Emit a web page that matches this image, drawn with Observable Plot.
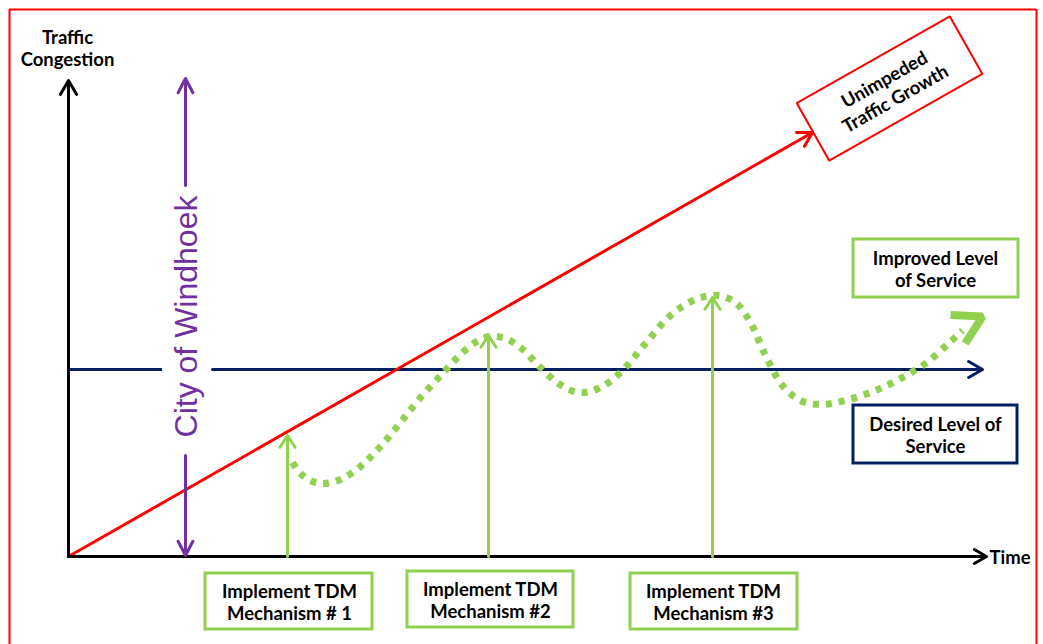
<!DOCTYPE html>
<html><head><meta charset="utf-8">
<script src="https://cdn.jsdelivr.net/npm/d3@7"></script>
<script src="https://cdn.jsdelivr.net/npm/@observablehq/plot@0.6"></script>
<style>body{margin:0;background:#fff} svg{display:block}</style>
</head><body><div id="chart"></div>
<script>
// ---- Data (time units from origin, congestion units from origin) ----
const axisTimeMax = 918;
const axisCongestionMax = 476;
const growthTime = [0, 744];
const growthLevel = [0, 424];
const desiredLevel = 187;
const cityTime = 117;
const mechTime = [219, 420, 644];
const mechPeak = [121, 221, 259];
const mechLabels = ["Implement TDM\nMechanism # 1", "Implement TDM\nMechanism #2", "Implement TDM\nMechanism #3"];
const serviceTime  = [224, 232, 244, 255, 272, 292, 312, 332, 352, 375, 394, 410, 422, 437, 452, 472, 490, 510, 530, 552, 577, 602, 627, 649, 667, 682, 697, 714, 732, 754, 780, 807, 832, 857, 880, 894];
const serviceLevel = [ 94,  83,  75,  73,  77,  90, 110, 134, 159, 184, 204, 216, 220, 218, 209, 189, 173, 164, 168, 184, 213, 241, 257, 261, 254, 234, 201, 171, 156, 152, 157, 166, 178, 193, 213, 226];
const serviceTip = [914, 240];
const serviceTail = [825, 194];

// ---- Colours ----
const RED = "#FF0000", NAVY = "#002060", GREEN = "#92D050", PURPLE = "#7030A0";
const FONT = "Lato, 'Open Sans', sans-serif";
const FS = 18.5;

// ---- Annotation placements ----
const mechBoxes = mechTime.map((t, i) => ({label: mechLabels[i], x: [221, 422, 645][i], x1: [137, 339, 562][i], x2: [304, 505, 729][i], y1: [-17, -15, -17][i], y2: [-73, -71, -73][i], yc: [-45, -43, -45][i]}));
const sideBoxes = [
  {label: "Improved Level\nof Service", x1: 785, x2: 950, y1: 317, y2: 259, x: 867, y: 288, stroke: GREEN},
  {label: "Desired Level of\nService", x1: 785, x2: 949, y1: 151, y2: 93, x: 867, y: 122, stroke: NAVY}
];
const growthBox = {x: 821, y: 468, w: 176, h: 66, angle: 29.5};
const gr = growthBox.angle * Math.PI / 180;
const ux = Math.cos(gr), uy = Math.sin(gr), vx = -Math.sin(gr), vy = Math.cos(gr);
const growthPoly = [[-1,-1],[1,-1],[1,1],[-1,1],[-1,-1]].map(([a,b]) => ({
  x: growthBox.x + a*ux*growthBox.w/2 + b*vx*growthBox.h/2,
  y: growthBox.y + a*uy*growthBox.w/2 + b*vy*growthBox.h/2
}));

const service = serviceTime.map((t, i) => ({x: t, y: serviceLevel[i]}));

const chart = Plot.plot({
  width: 1043, height: 644,
  marginLeft: 0, marginRight: 0, marginTop: 0, marginBottom: 0,
  x: {domain: [0, 975], range: [68, 1043], axis: null},
  y: {domain: [0, 556], range: [556, 0], axis: null},
  style: {background: "white", fontFamily: FONT},
  marks: [
    // red frame
    Plot.ruleX([-59, 968], {y1: -100, y2: 547, stroke: RED, strokeWidth: 2}),
    Plot.ruleY([547], {x1: -59, x2: 968, stroke: RED, strokeWidth: 2}),
    // desired level of service line (broken around city label)
    Plot.ruleY([desiredLevel], {x1: 0, x2: 94, stroke: NAVY, strokeWidth: 3}),
    Plot.arrow([{x1: 144, x2: 914, y: desiredLevel}], {x1: "x1", x2: "x2", y1: "y", y2: "y", stroke: NAVY, strokeWidth: 3, headLength: 8, headAngle: 60}),
    // unimpeded growth
    Plot.arrow([{x1: growthTime[0], y1: growthLevel[0], x2: growthTime[1], y2: growthLevel[1]}], {x1: "x1", y1: "y1", x2: "x2", y2: "y2", stroke: RED, strokeWidth: 3, headLength: 8, headAngle: 60}),
    Plot.line(growthPoly, {x: "x", y: "y", stroke: RED, strokeWidth: 2, strokeLinejoin: "miter"}),
    Plot.text([growthBox], {x: "x", y: "y", text: () => "Unimpeded\nTraffic Growth", rotate: -growthBox.angle, fontSize: FS, fontWeight: "bold", fill: "black", lineHeight: 1.2}),
    // axes
    Plot.arrow([{x1: 0, y1: 0, x2: 0, y2: axisCongestionMax}], {x1: "x1", y1: "y1", x2: "x2", y2: "y2", stroke: "black", strokeWidth: 3, headLength: 8, headAngle: 60}),
    Plot.arrow([{x1: 0, y1: 0, x2: axisTimeMax, y2: 0}], {x1: "x1", y1: "y1", x2: "x2", y2: "y2", stroke: "black", strokeWidth: 3, headLength: 7, headAngle: 60}),
    Plot.text(["Traffic\nCongestion"], {x: -1, y: 509, text: d => d, fontSize: FS, fontWeight: "bold", fill: "black", lineHeight: 1.2}),
    Plot.text(["Time"], {x: 921, y: -2, text: d => d, fontSize: FS, fontWeight: "bold", fill: "black", textAnchor: "start"}),
    // city of windhoek
    Plot.arrow([{y1: 371, y2: 478}, {y1: 101, y2: 1}], {x1: cityTime, x2: cityTime, y1: "y1", y2: "y2", stroke: PURPLE, strokeWidth: 3, headLength: 8, headAngle: 55}),
    Plot.text(["City of Windhoek"], {x: cityTime + 1, y: 240, text: d => d, rotate: -90, fontSize: 32, fill: PURPLE, fontFamily: "'Liberation Sans', Arial, sans-serif"}),
    // improved service path
    Plot.line(service, {x: "x", y: "y", stroke: GREEN, strokeWidth: 7, strokeDasharray: "6,7", strokeLinecap: "butt", curve: "catmull-rom"}),
    Plot.arrow([{x1: serviceTail[0], y1: serviceTail[1], x2: serviceTip[0], y2: serviceTip[1]}], {x1: "x1", y1: "y1", x2: "x2", y2: "y2", stroke: GREEN, strokeWidth: 8, headLength: 6, headAngle: 60, insetStart: 93, strokeLinecap: "butt"}),
    // TDM mechanisms
    Plot.arrow(mechTime.map((t, i) => ({x: t, y2: mechPeak[i]})), {x1: "x", x2: "x", y1: 0, y2: "y2", stroke: GREEN, strokeWidth: 3, headLength: 7, headAngle: 65}),
    Plot.rect(mechBoxes, {x1: "x1", x2: "x2", y1: "y1", y2: "y2", fill: "white", stroke: GREEN, strokeWidth: 3}),
    Plot.text(mechBoxes, {x: "x", y: "yc", text: "label", fontSize: FS, fontWeight: "bold", fill: "black", lineHeight: 1.2}),
    // side boxes
    Plot.rect(sideBoxes, {x1: "x1", x2: "x2", y1: "y1", y2: "y2", fill: "white", stroke: "stroke", strokeWidth: 3}),
    Plot.text(sideBoxes, {x: "x", y: "y", text: "label", fontSize: FS, fontWeight: "bold", fill: "black", lineHeight: 1.2})
  ]
});
document.getElementById("chart").appendChild(chart);
</script>
</body></html>
